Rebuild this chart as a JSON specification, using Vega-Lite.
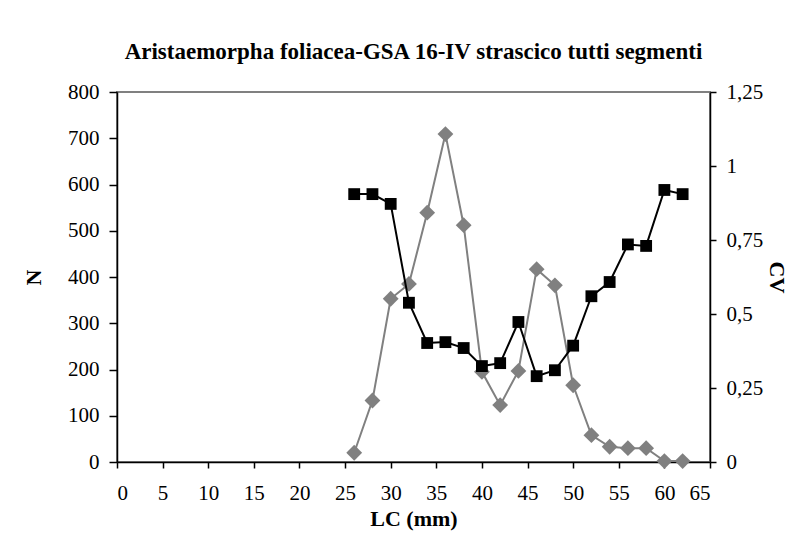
{
  "$schema": "https://vega.github.io/schema/vega-lite/v6.json",
  "autosize": {"type": "none"},
  "width": 593,
  "height": 370,
  "padding": {"left": 117, "top": 92, "right": 91, "bottom": 79},
  "background": "white",
  "title": {
    "text": "Aristaemorpha foliacea-GSA 16-IV strascico tutti segmenti",
    "fontSize": 23,
    "fontWeight": "bold",
    "font": "Liberation Serif",
    "color": "black",
    "anchor": "middle",
    "offset": 17
  },
  "config": {
    "font": "Liberation Serif",
    "view": {"stroke": "#808080", "strokeWidth": 2},
    "axis": {
      "grid": false,
      "domainColor": "black",
      "domainWidth": 1.5,
      "tickColor": "black",
      "tickWidth": 1.5,
      "labelColor": "black",
      "labelFont": "Liberation Serif",
      "labelFontSize": 21,
      "titleFont": "Liberation Serif",
      "titleFontSize": 22,
      "titleFontWeight": "bold",
      "titleColor": "black"
    }
  },
  "data": {
    "values": [
      {"LC": 26, "N": 20, "CV": 0.905},
      {"LC": 28, "N": 133, "CV": 0.905},
      {"LC": 30, "N": 353, "CV": 0.872},
      {"LC": 32, "N": 385, "CV": 0.538},
      {"LC": 34, "N": 539, "CV": 0.402},
      {"LC": 36, "N": 709, "CV": 0.405},
      {"LC": 38, "N": 512, "CV": 0.385},
      {"LC": 40, "N": 195, "CV": 0.324},
      {"LC": 42, "N": 123, "CV": 0.334},
      {"LC": 44, "N": 197, "CV": 0.473},
      {"LC": 46, "N": 417, "CV": 0.29},
      {"LC": 48, "N": 382, "CV": 0.31},
      {"LC": 50, "N": 166, "CV": 0.393},
      {"LC": 52, "N": 58, "CV": 0.56},
      {"LC": 54, "N": 33, "CV": 0.608},
      {"LC": 56, "N": 30, "CV": 0.735},
      {"LC": 58, "N": 30, "CV": 0.73},
      {"LC": 60, "N": 2, "CV": 0.919},
      {"LC": 62, "N": 2, "CV": 0.905}
    ]
  },
  "encoding": {
    "x": {
      "field": "LC",
      "type": "quantitative",
      "scale": {"domain": [0, 65], "nice": false, "zero": false},
      "axis": {
        "values": [0, 5, 10, 15, 20, 25, 30, 35, 40, 45, 50, 55, 60, 65],
        "tickSize": 6,
        "labelPadding": 14,
        "title": "LC (mm)",
        "titlePadding": 5
      }
    }
  },
  "layer": [
    {
      "layer": [
        {"mark": {"type": "line", "color": "#808080", "strokeWidth": 2}},
        {"mark": {"type": "point", "shape": "diamond", "filled": true, "color": "#808080", "size": 250, "opacity": 1}}
      ],
      "encoding": {
        "y": {
          "field": "N",
          "type": "quantitative",
          "scale": {"domain": [0, 800], "nice": false},
          "axis": {
            "orient": "left",
            "values": [0, 100, 200, 300, 400, 500, 600, 700, 800],
            "tickSize": 8,
            "labelPadding": 10,
            "title": "N",
            "titlePadding": 22
          }
        }
      }
    },
    {
      "layer": [
        {"mark": {"type": "line", "color": "black", "strokeWidth": 2}},
        {"mark": {"type": "point", "shape": "square", "filled": true, "color": "black", "size": 140, "opacity": 1}}
      ],
      "encoding": {
        "y": {
          "field": "CV",
          "type": "quantitative",
          "scale": {"domain": [0, 1.25], "nice": false},
          "axis": {
            "orient": "right",
            "values": [0, 0.25, 0.5, 0.75, 1, 1.25],
            "labelExpr": "replace(toString(datum.value), '.', ',')",
            "tickSize": 6,
            "labelPadding": 10,
            "title": "CV",
            "titleAngle": 90,
            "titlePadding": 2
          }
        }
      }
    }
  ],
  "resolve": {"scale": {"y": "independent"}}
}
